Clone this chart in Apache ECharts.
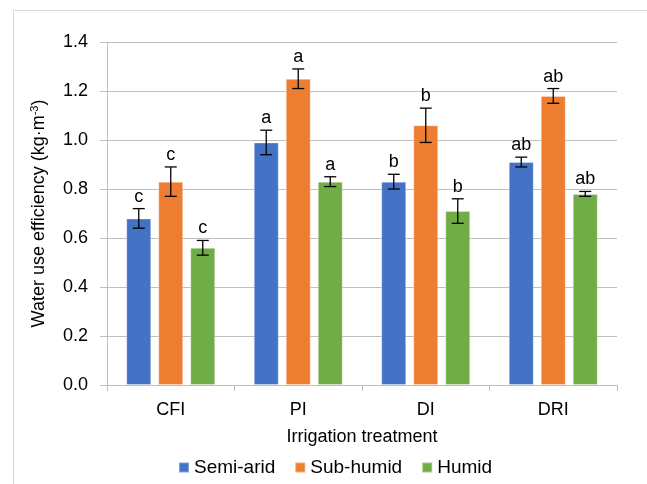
<!DOCTYPE html>
<html><head><meta charset="utf-8">
<script src="https://cdn.jsdelivr.net/npm/echarts@6/dist/echarts.min.js"></script>
<style>html,body{margin:0;padding:0;background:#fff}#c{width:647px;height:484px}</style>
</head><body><div id="c"></div>
<script>
const categories = ['CFI', 'PI', 'DI', 'DRI'];
const seriesNames = ['Semi-arid', 'Sub-humid', 'Humid'];
const semiArid = [0.68, 0.99, 0.83, 0.91];
const subHumid = [0.83, 1.25, 1.06, 1.18];
const humid = [0.56, 0.83, 0.71, 0.78];
const semiAridErr = [0.04, 0.05, 0.03, 0.02];
const subHumidErr = [0.06, 0.04, 0.07, 0.03];
const humidErr = [0.03, 0.02, 0.05, 0.01];
const letters = ['c', 'a', 'b', 'ab'];
const yTicks = [0, 0.2, 0.4, 0.6, 0.8, 1.0, 1.2, 1.4];

const colors = ['#4472C4', '#ED7D31', '#70AD47'];
const values = [semiArid, subHumid, humid];
const errs = [semiAridErr, subHumidErr, humidErr];
const BAR_W = 25, GAP = 7;
const font = 'Liberation Sans, Arial, sans-serif';
const FS = 18;

const chart = echarts.init(document.getElementById('c'));
const series = [];
values.forEach((vals, s) => {
  series.push({
    name: seriesNames[s], type: 'bar', data: vals, barWidth: BAR_W, barGap: (GAP / BAR_W * 100) + '%',
    itemStyle: { color: colors[s], borderColor: 'rgba(255,255,255,0.35)', borderWidth: 1 },
    z: 2
  });
});
values.forEach((vals, s) => {
  series.push({
    type: 'custom', silent: true, z: 5,
    data: vals.map((v, i) => [i, v, errs[s][i]]),
    renderItem: function (params, api) {
      const i = api.value(0), v = api.value(1), e = api.value(2);
      const off = (s - 1) * (BAR_W + GAP);
      const top = api.coord([i, v + e]);
      const bot = api.coord([i, v - e]);
      const x = top[0] + off;
      const hw = 6;
      return {
        type: 'group', children: [
          { type: 'line', shape: { x1: x, y1: top[1], x2: x, y2: bot[1] }, style: { stroke: '#000', lineWidth: 1.3 } },
          { type: 'line', shape: { x1: x - hw, y1: top[1], x2: x + hw, y2: top[1] }, style: { stroke: '#000', lineWidth: 1.3 } },
          { type: 'line', shape: { x1: x - hw, y1: bot[1], x2: x + hw, y2: bot[1] }, style: { stroke: '#000', lineWidth: 1.3 } },
          { type: 'text', x: x, y: top[1] - 3, style: { text: letters[i], font: FS + 'px ' + font, fill: '#000', align: 'center', verticalAlign: 'bottom' } }
        ]
      };
    }
  });
});

chart.setOption({
  animation: false,
  backgroundColor: '#fff',
  color: colors,
  grid: { left: 107, right: 30, top: 42, bottom: 99 },
  legend: {
    data: seriesNames, bottom: 2, left: 173, itemWidth: 10, itemHeight: 10, itemGap: 19,
    icon: 'rect',
    textStyle: { fontFamily: font, fontSize: 19, color: '#000' }
  },
  xAxis: {
    type: 'category', data: categories,
    name: 'Irrigation treatment', nameLocation: 'middle', nameGap: 43,
    nameTextStyle: { fontFamily: font, fontSize: FS, color: '#000' },
    axisLine: { lineStyle: { color: '#bfbfbf', width: 1 } },
    axisTick: { show: true, length: 6, lineStyle: { color: '#bfbfbf' } },
    axisLabel: { fontFamily: font, fontSize: FS, color: '#000', margin: 16 }
  },
  yAxis: {
    type: 'value', min: 0, max: 1.4, interval: 0.2,
    name: '{a|Water use efficiency (kg·m}{s|-3}{a|)}',
    nameLocation: 'middle', nameGap: 58, nameRotate: 90,
    nameTextStyle: {
      rich: {
        a: { fontFamily: font, fontSize: FS, color: '#000', lineHeight: 20 },
        s: { fontFamily: font, fontSize: 11, color: '#000', verticalAlign: 'top', lineHeight: 20, padding: [0, 0, 9, 0] }
      }
    },
    axisLine: { show: true, lineStyle: { color: '#bfbfbf', width: 1 } },
    axisTick: { show: true, length: 7, lineStyle: { color: '#bfbfbf' } },
    splitLine: { lineStyle: { color: '#bfbfbf', width: 1 } },
    axisLabel: { fontFamily: font, fontSize: FS, color: '#000', margin: 19, formatter: v => {
      const t = yTicks.find(k => Math.abs(k - v) < 1e-9); return (t !== undefined ? t : v).toFixed(1); } }
  },
  graphic: [
    { type: 'line', shape: { x1: 13, y1: 10.5, x2: 647, y2: 10.5 }, style: { stroke: '#d9d9d9', lineWidth: 1 } },
    { type: 'line', shape: { x1: 13.5, y1: 10, x2: 13.5, y2: 484 }, style: { stroke: '#d9d9d9', lineWidth: 1 } }
  ],
  series: series
});
</script></body></html>
